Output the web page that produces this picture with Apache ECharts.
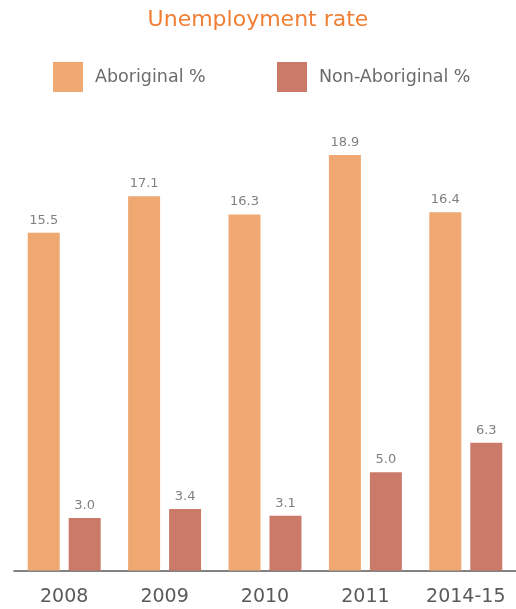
<!DOCTYPE html>
<html>
<head>
<meta charset="utf-8">
<script src="https://cdn.jsdelivr.net/npm/echarts@6/dist/echarts.min.js"></script>
<style>
html,body{margin:0;padding:0;background:#fff;}
#chart{width:516px;height:609px;}
</style>
</head>
<body>
<div id="chart"></div>
<script>
const categories = ['2008', '2009', '2010', '2011', '2014-15'];
const aboriginal = [15.5, 17.1, 16.3, 18.9, 16.4];
const nonAboriginal = [3.0, 3.4, 3.1, 5.0, 6.3];
const seriesNames = ['Aboriginal %', 'Non-Aboriginal %'];
const titleText = 'Unemployment rate';

const FONT = "'DejaVu Sans', sans-serif";
const chart = echarts.init(document.getElementById('chart'), null, {renderer: 'canvas'});
chart.setOption({
  animation: false,
  backgroundColor: '#ffffff',
  title: {
    text: titleText,
    left: 'center',
    top: 4,
    textStyle: {color: '#F07F35', fontSize: 22, fontWeight: 'normal', fontFamily: FONT}
  },
  legend: [
    {
      data: [seriesNames[0]], left: 53, top: 62, padding: 0, itemWidth: 30, itemHeight: 30,
      icon: 'rect',
      textStyle: {color: '#6b6b6b', fontSize: 17.5, fontFamily: FONT, padding: [0, 0, 0, 7]}
    },
    {
      data: [seriesNames[1]], left: 277, top: 62, padding: 0, itemWidth: 30, itemHeight: 30,
      icon: 'rect',
      textStyle: {color: '#6b6b6b', fontSize: 17.5, fontFamily: FONT, padding: [0, 0, 0, 7]}
    }
  ],
  grid: {left: 14, right: 0, top: 130, bottom: 38.5, containLabel: false},
  xAxis: {
    type: 'category',
    data: categories,
    axisLine: {show: true, lineStyle: {color: '#595959', width: 1.5}},
    axisTick: {show: false},
    axisLabel: {interval: 0, color: '#5a5a5a', fontSize: 19, fontFamily: FONT, margin: 17}
  },
  yAxis: {
    type: 'value', min: 0.7, max: 20,
    show: false,
    splitLine: {show: false}
  },
  series: [
    {
      name: seriesNames[0], type: 'bar', data: aboriginal,
      barWidth: 32, barGap: '28%',
      itemStyle: {color: '#EFA872'},
      label: {show: true, position: 'top', distance: 6, color: '#808080', fontSize: 13, fontFamily: FONT,
        formatter: p => p.value.toFixed(1)}
    },
    {
      name: seriesNames[1], type: 'bar', data: nonAboriginal,
      barWidth: 32, barGap: '28%',
      itemStyle: {color: '#CB7A69'},
      label: {show: true, position: 'top', distance: 6, color: '#808080', fontSize: 13, fontFamily: FONT,
        formatter: p => p.value.toFixed(1)}
    }
  ]
});
</script>
</body>
</html>
